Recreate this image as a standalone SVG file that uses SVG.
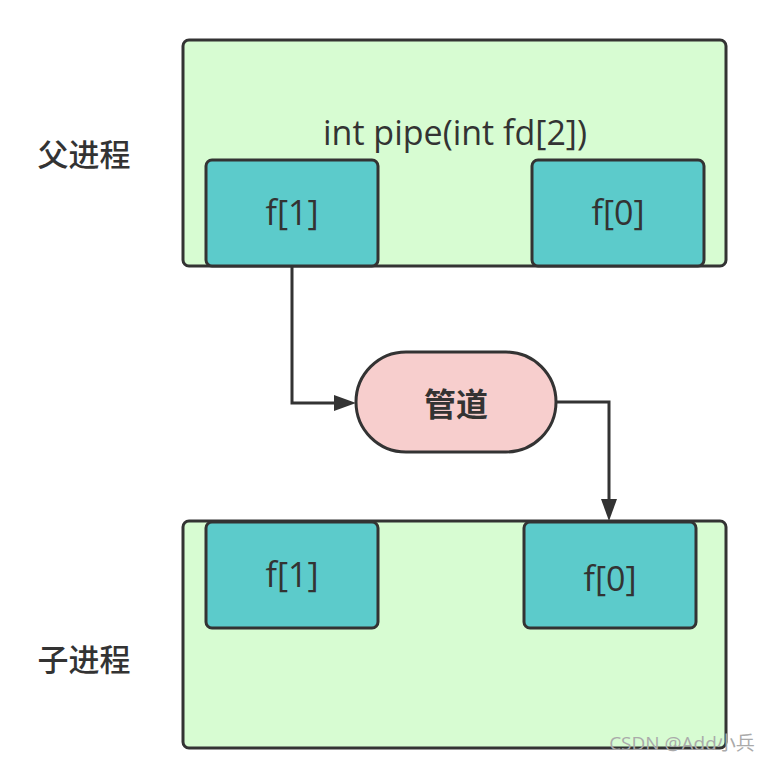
<svg xmlns="http://www.w3.org/2000/svg" width="770" height="762" viewBox="0 0 770 762">
<style>
.box{fill:#d7fcd2;stroke:#333;stroke-width:3}
.fd{fill:#5ccbcb;stroke:#333;stroke-width:3}
.pipe{fill:#f7cecd;stroke:#333;stroke-width:3}
text{font-family:"Open Sans","Noto Sans CJK SC",sans-serif;fill:#333;text-anchor:middle}
.t{font-size:34px}
.lbl{font-family:"Noto Sans CJK SC",sans-serif;font-size:31px;font-weight:500}
.conn{fill:none;stroke:#333;stroke-width:3}
</style>
<rect width="770" height="762" fill="#fff"/>
<g id="parent-label"><text class="lbl" x="84" y="166">父进程</text></g>
<g id="child-label"><text class="lbl" x="84" y="671">子进程</text></g>
<g id="parent">
<rect class="box" x="183" y="40" width="543" height="226" rx="6"/>
<text x="455" y="145" style="font-size:34px;font-weight:500">int pipe(int fd[2])</text>
</g>
<g id="parent-f1"><rect class="fd" x="206" y="160" width="172" height="106" rx="6"/><text class="t" x="292" y="225">f[1]</text></g>
<g id="parent-f0"><rect class="fd" x="532" y="160" width="172" height="106" rx="6"/><text class="t" x="618" y="225">f[0]</text></g>
<g id="pipe"><rect class="pipe" x="356" y="352" width="200" height="100" rx="50"/><text x="456" y="416" style="font-family:'Noto Sans CJK SC',sans-serif;font-size:32px;font-weight:700">管道</text></g>
<g id="child"><rect class="box" x="183" y="521" width="543" height="227" rx="6"/></g>
<g id="child-f1"><rect class="fd" x="206" y="522" width="172" height="106" rx="6"/><text class="t" x="292" y="587">f[1]</text></g>
<g id="child-f0"><rect class="fd" x="524" y="522" width="172" height="106" rx="6"/><text class="t" x="610" y="591">f[0]</text></g>
<g id="connectors">
<path class="conn" d="M292,266 V403 H340"/>
<path d="M334,395 L356,403 L334,411 Z" fill="#333"/>
<path class="conn" d="M556,402 H609 V505"/>
<path d="M601,499 L609,521 L617,499 Z" fill="#333"/>
</g>
<text x="682" y="750" style="font-size:19px;fill:#aaa">CSDN @Add小兵</text>
</svg>
